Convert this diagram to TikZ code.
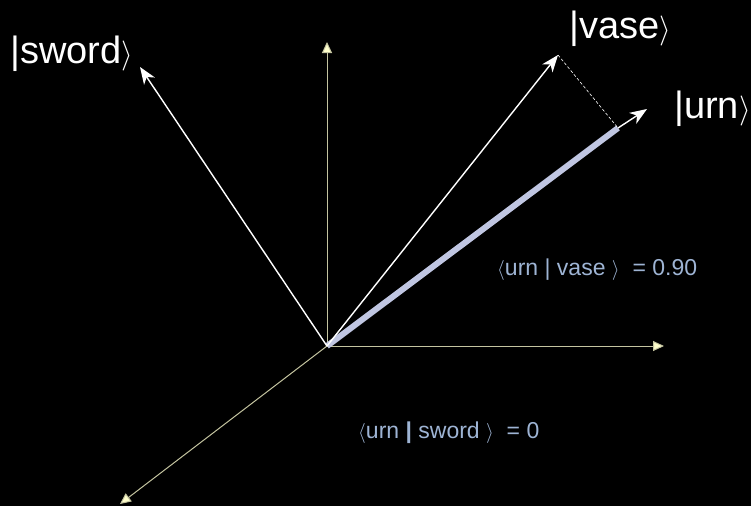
\documentclass[tikz,border=0pt]{standalone}
\usepackage{fontspec}
\usepackage{graphicx}
\setmainfont{Liberation Sans}
\usetikzlibrary{arrows.meta}

\definecolor{axisline}{RGB}{196,196,160}
\definecolor{axistip}{RGB}{255,255,204}
\definecolor{urnbar}{RGB}{192,198,226}
\definecolor{braket}{RGB}{158,180,212}

\newcommand{\rket}[1]{\resizebox*{!}{#1}{$\rangle$}}
\newcommand{\lbra}[1]{\resizebox*{!}{#1}{$\langle$}}

\begin{document}
\begin{tikzpicture}[x=1pt, y=-1pt,
    axis/.style={draw=axisline, line width=1pt, -{Triangle[length=11pt, width=10pt, fill=axistip]}},
    vec/.style={draw=white, line width=1.4pt, -{Stealth[length=17pt, width=13pt, inset=5pt]}},
    ket/.style={text=white, font=\fontsize{38}{44}\selectfont, inner sep=0pt, anchor=base west},
    inner/.style={text=braket, font=\fontsize{23}{26}\selectfont, inner sep=0pt, anchor=base west}]
    % Background
    \useasboundingbox (0,0) rectangle (751,506);
    \fill[black] (0,0) rectangle (751,506);
    % Points
    \coordinate (O) at (327,346);
    \coordinate (up) at (327,42);
    \coordinate (right) at (664,346);
    \coordinate (front) at (120,504);
    \coordinate (sword) at (140,67);
    \coordinate (vase) at (558,55);
    \coordinate (foot) at (618,128);
    \coordinate (urn) at (647,109);
    % Axes
    \draw[axis] (O) -- (up);
    \draw[axis] (O) -- (right);
    \draw[axis] (O) -- (front);
    % Projection of vase on urn
    \draw[urnbar, line width=6pt] (O) -- (foot);
    \draw[white, line width=0.6pt, dash pattern=on 3pt off 2pt] (vase) -- (foot);
    % Vectors
    \draw[vec] (O) -- (sword);
    \draw[vec] (O) -- (vase);
    \draw[vec] (foot) -- (urn);
    % Labels
    \node[ket] (swordlbl) at (10,63) {|sword\rket{30pt}};
    \node[ket] (vaselbl) at (569,38) {|vase\rket{30pt}};
    \node[ket] (urnlbl) at (674,118) {|urn\rket{30pt}};
    \node[inner] (urnvase) at (497,275) {\lbra{20pt}urn | vase \rket{20pt}\ \ = 0.90};
    \node[inner] (urnsword) at (358,438) {\lbra{20pt}urn \textbf{|} sword \rket{20pt}\ \ = 0};
\end{tikzpicture}
\end{document}
